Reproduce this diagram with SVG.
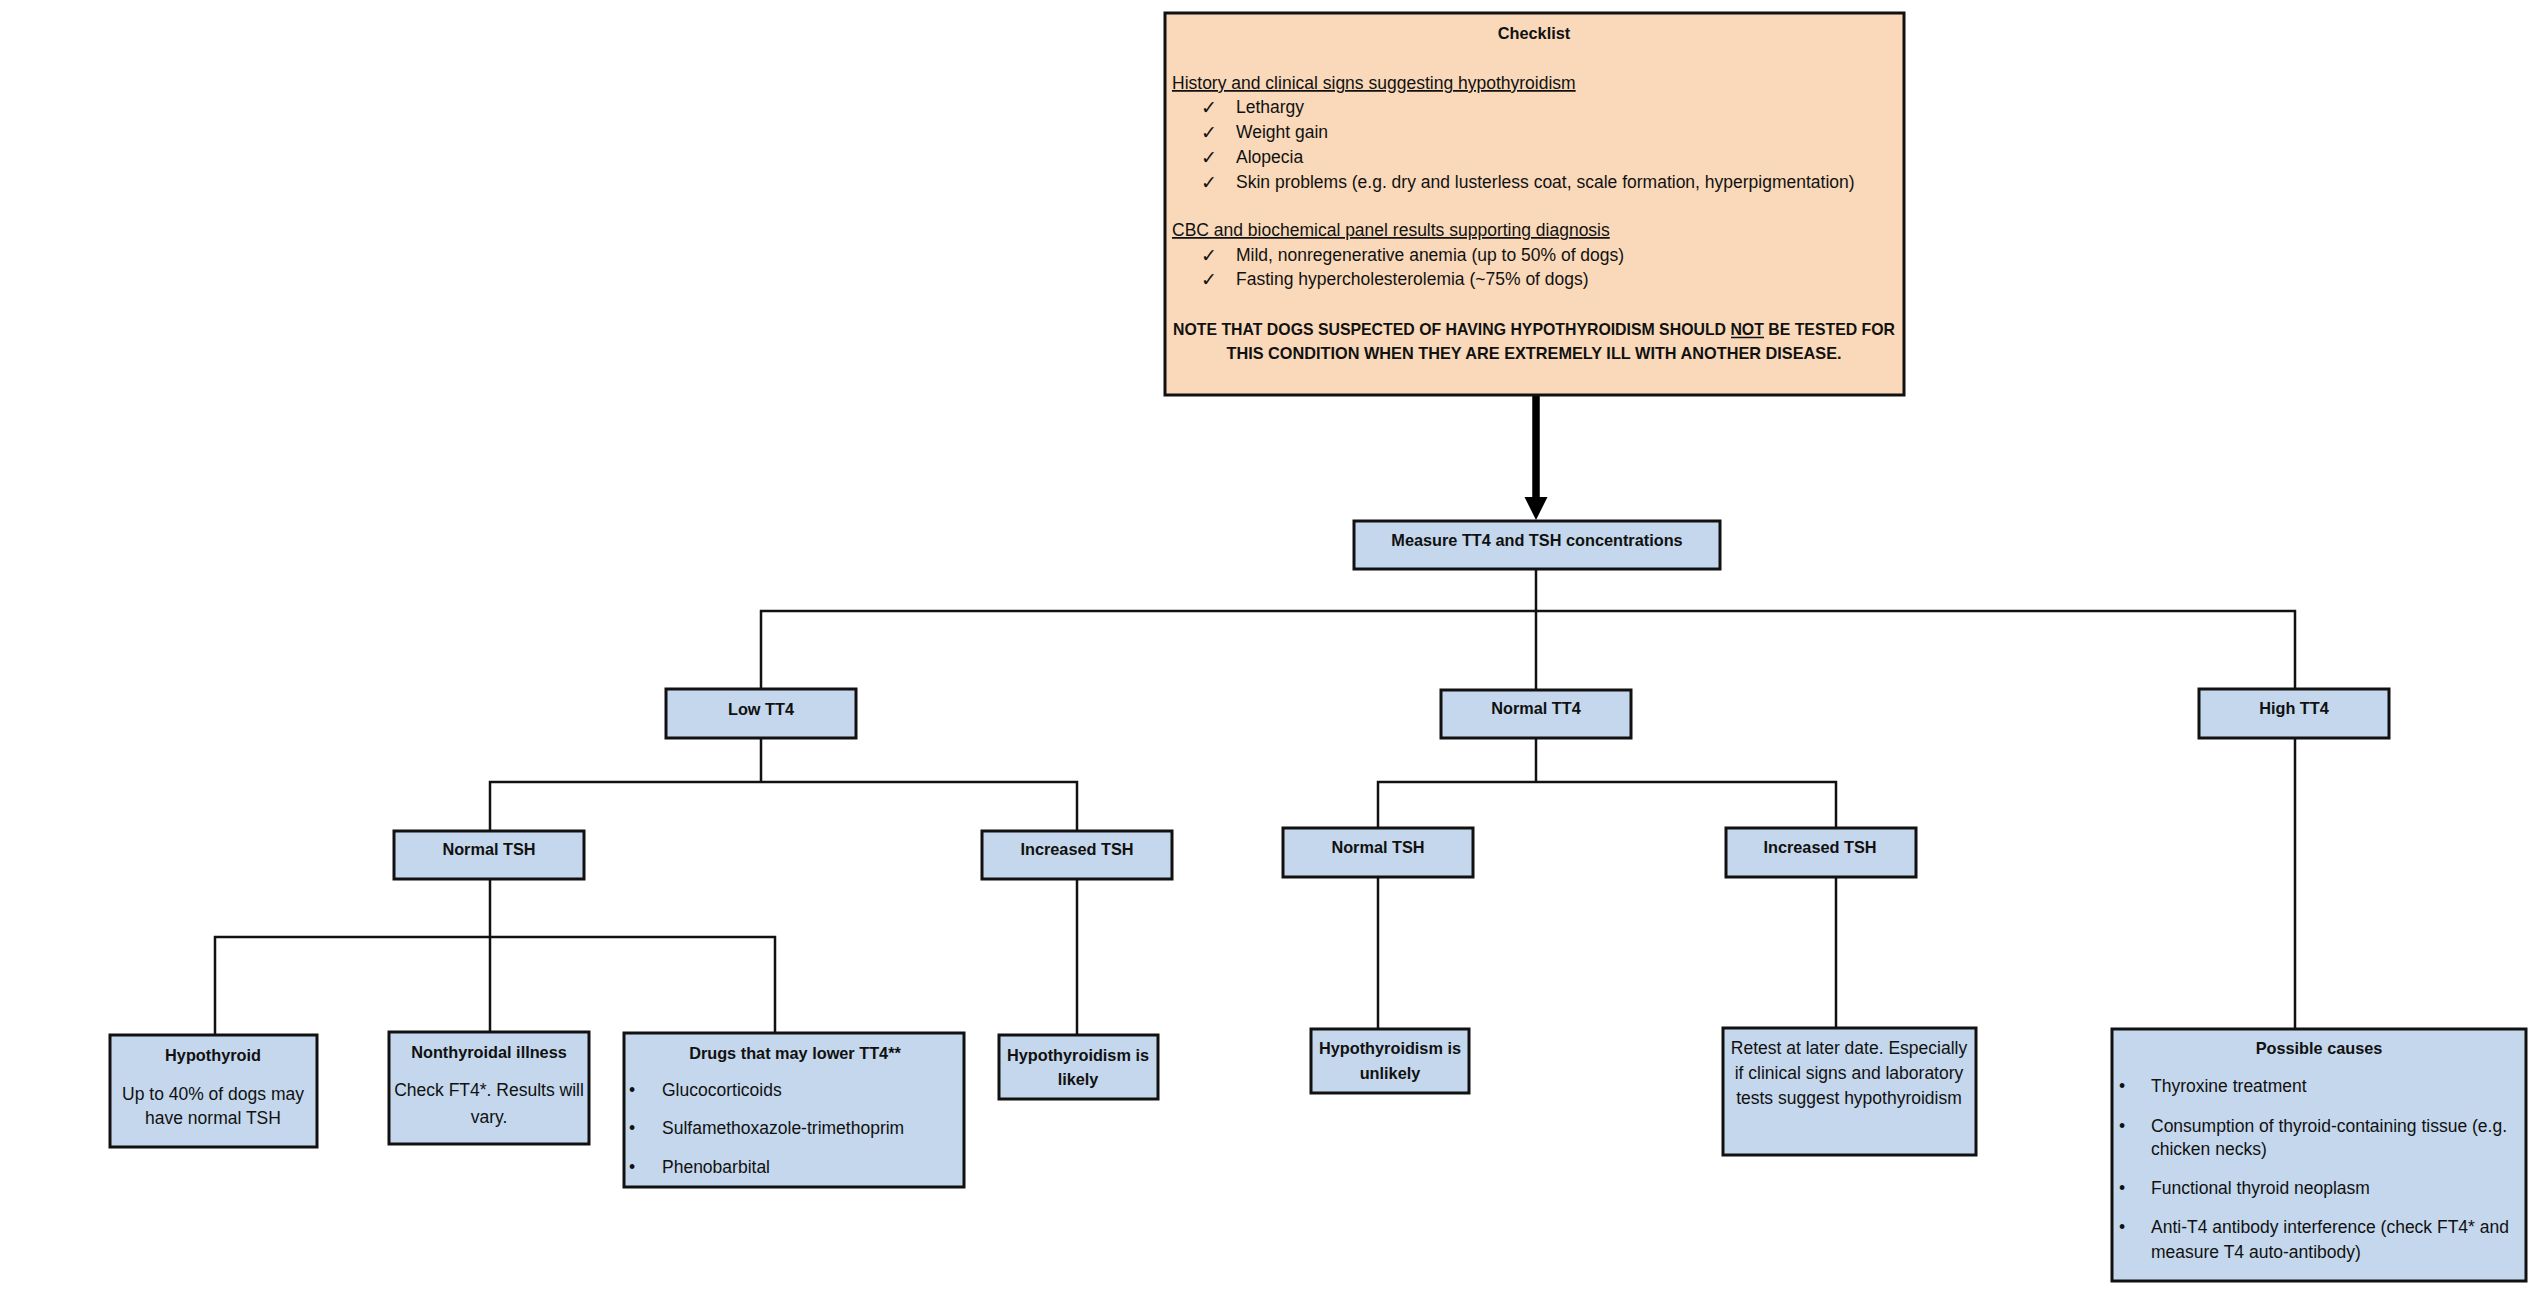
<svg xmlns="http://www.w3.org/2000/svg" width="2540" height="1316" viewBox="0 0 2540 1316">
<style>
text{font-family:"Liberation Sans",Arial,sans-serif;fill:#111;}
.b{font-weight:bold;font-size:16.3px;}
.n{font-size:17.5px;}
.m{text-anchor:middle;}
.u{text-decoration:underline;}
.ck{font-family:"DejaVu Sans",sans-serif;font-size:19px;text-anchor:middle;}
.box{fill:#C4D7EC;stroke:#111;stroke-width:3;}
.peach{fill:#F9D9BA;stroke:#111;stroke-width:3;}
.c{fill:none;stroke:#111;stroke-width:2.5;}
</style>
<rect width="2540" height="1316" fill="#ffffff"/>
<g id="connectors">
<line x1="1536" y1="395" x2="1536" y2="499" stroke="#000" stroke-width="7.5"/>
<polygon points="1524.5,497 1547.5,497 1536,520" fill="#000"/>
<path class="c" d="M1536 569 V690 M761 689 V611 H2295 V689"/>
<path class="c" d="M761 738 V782 M490 831 V782 H1077 V831"/>
<path class="c" d="M490 879 V937 M215 1035 V937 H775 V1033 M490 937 V1032"/>
<path class="c" d="M1077 879 V1035"/>
<path class="c" d="M1536 738 V782 M1378 828 V782 H1836 V828"/>
<path class="c" d="M1378 877 V1029 M1836 877 V1028"/>
<path class="c" d="M2295 738 V1029"/>
</g>
<g id="checklist">
<rect class="peach" x="1165" y="13" width="739" height="382"/>
<text class="b m" x="1534" y="39">Checklist</text>
<text class="n u" x="1172" y="89">History and clinical signs suggesting hypothyroidism</text>
<text class="ck" x="1209" y="114">✓</text><text class="n" x="1236" y="113">Lethargy</text>
<text class="ck" x="1209" y="139">✓</text><text class="n" x="1236" y="138">Weight gain</text>
<text class="ck" x="1209" y="164">✓</text><text class="n" x="1236" y="163">Alopecia</text>
<text class="ck" x="1209" y="189">✓</text><text class="n" x="1236" y="188">Skin problems (e.g. dry and lusterless coat, scale formation, hyperpigmentation)</text>
<text class="n u" x="1172" y="236">CBC and biochemical panel results supporting diagnosis</text>
<text class="ck" x="1209" y="262">✓</text><text class="n" x="1236" y="261">Mild, nonregenerative anemia (up to 50% of dogs)</text>
<text class="ck" x="1209" y="286">✓</text><text class="n" x="1236" y="285">Fasting hypercholesterolemia (~75% of dogs)</text>
<text class="b m" x="1534" y="335" textLength="722" lengthAdjust="spacingAndGlyphs">NOTE THAT DOGS SUSPECTED OF HAVING HYPOTHYROIDISM SHOULD NOT BE TESTED FOR</text>
<line x1="1731" y1="337.5" x2="1764" y2="337.5" stroke="#111" stroke-width="1.6"/>
<text class="b m" x="1534" y="359">THIS CONDITION WHEN THEY ARE EXTREMELY ILL WITH ANOTHER DISEASE.</text>
</g>
<g id="measure">
<rect class="box" x="1354" y="521" width="366" height="48"/>
<text class="b m" x="1537" y="546">Measure TT4 and TSH concentrations</text>
</g>
<g id="low-tt4">
<rect class="box" x="666" y="689" width="190" height="49"/>
<text class="b m" x="761" y="715">Low TT4</text>
</g>
<g id="normal-tt4">
<rect class="box" x="1441" y="690" width="190" height="48"/>
<text class="b m" x="1536" y="714">Normal TT4</text>
</g>
<g id="high-tt4">
<rect class="box" x="2199" y="689" width="190" height="49"/>
<text class="b m" x="2294" y="714">High TT4</text>
</g>
<g id="low-normal-tsh">
<rect class="box" x="394" y="831" width="190" height="48"/>
<text class="b m" x="489" y="855">Normal TSH</text>
</g>
<g id="low-increased-tsh">
<rect class="box" x="982" y="831" width="190" height="48"/>
<text class="b m" x="1077" y="855">Increased TSH</text>
</g>
<g id="mid-normal-tsh">
<rect class="box" x="1283" y="828" width="190" height="49"/>
<text class="b m" x="1378" y="853">Normal TSH</text>
</g>
<g id="mid-increased-tsh">
<rect class="box" x="1726" y="828" width="190" height="49"/>
<text class="b m" x="1820" y="853">Increased TSH</text>
</g>
<g id="hypothyroid">
<rect class="box" x="110" y="1035" width="207" height="112"/>
<text class="b m" x="213" y="1061">Hypothyroid</text>
<text class="n m" x="213" y="1100">Up to 40% of dogs may</text>
<text class="n m" x="213" y="1124">have normal TSH</text>
</g>
<g id="nonthyroidal">
<rect class="box" x="389" y="1032" width="200" height="112"/>
<text class="b m" x="489" y="1058">Nonthyroidal illness</text>
<text class="n m" x="489" y="1096">Check FT4*. Results will</text>
<text class="n m" x="489" y="1123">vary.</text>
</g>
<g id="drugs">
<rect class="box" x="624" y="1033" width="340" height="154"/>
<text class="b m" x="795" y="1059">Drugs that may lower TT4**</text>
<text class="n" x="629" y="1096">•</text><text class="n" x="662" y="1096">Glucocorticoids</text>
<text class="n" x="629" y="1134">•</text><text class="n" x="662" y="1134">Sulfamethoxazole-trimethoprim</text>
<text class="n" x="629" y="1173">•</text><text class="n" x="662" y="1173">Phenobarbital</text>
</g>
<g id="hypo-likely">
<rect class="box" x="999" y="1035" width="159" height="64"/>
<text class="b m" x="1078" y="1061">Hypothyroidism is</text>
<text class="b m" x="1078" y="1085">likely</text>
</g>
<g id="hypo-unlikely">
<rect class="box" x="1311" y="1029" width="158" height="64"/>
<text class="b m" x="1390" y="1054">Hypothyroidism is</text>
<text class="b m" x="1390" y="1079">unlikely</text>
</g>
<g id="retest">
<rect class="box" x="1723" y="1028" width="253" height="127"/>
<text class="n m" x="1849" y="1054">Retest at later date. Especially</text>
<text class="n m" x="1849" y="1079">if clinical signs and laboratory</text>
<text class="n m" x="1849" y="1104">tests suggest hypothyroidism</text>
</g>
<g id="possible-causes">
<rect class="box" x="2112" y="1029" width="414" height="252"/>
<text class="b m" x="2319" y="1054">Possible causes</text>
<text class="n" x="2119" y="1092">•</text><text class="n" x="2151" y="1092">Thyroxine treatment</text>
<text class="n" x="2119" y="1132">•</text><text class="n" x="2151" y="1132">Consumption of thyroid-containing tissue (e.g.</text>
<text class="n" x="2151" y="1155">chicken necks)</text>
<text class="n" x="2119" y="1194">•</text><text class="n" x="2151" y="1194">Functional thyroid neoplasm</text>
<text class="n" x="2119" y="1233">•</text><text class="n" x="2151" y="1233">Anti-T4 antibody interference (check FT4* and</text>
<text class="n" x="2151" y="1258">measure T4 auto-antibody)</text>
</g>
</svg>
